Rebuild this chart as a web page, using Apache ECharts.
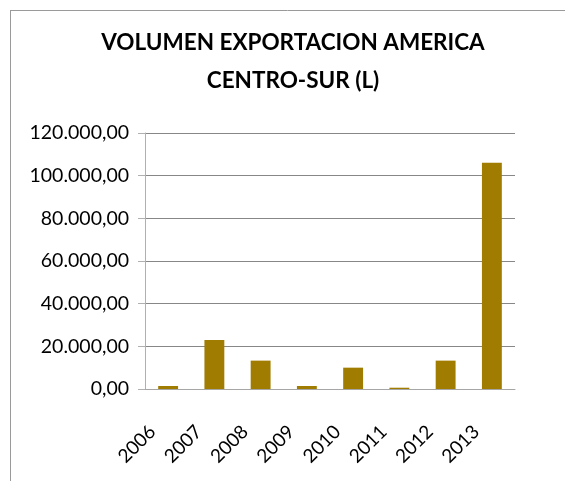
<!DOCTYPE html>
<html>
<head>
<meta charset="utf-8">
<script src="https://cdn.jsdelivr.net/npm/echarts@6/dist/echarts.min.js"></script>
<style>
  html, body { margin: 0; padding: 0; background: #fff; }
  #chart { width: 565px; height: 481px; }
</style>
</head>
<body>
<div id="chart"></div>
<script>
  // datos
  const years = ['2006', '2007', '2008', '2009', '2010', '2011', '2012', '2013'];
  const volumen = [1400, 23000, 13300, 1400, 10000, 600, 13300, 106000];
  const yTicks = [0, 20000, 40000, 60000, 80000, 100000, 120000];

  function fmt(v) {
    // 120000 -> 120.000,00
    const s = String(Math.round(v)).replace(/\B(?=(\d{3})+(?!\d))/g, '.');
    return s + ',00';
  }

  const myChart = echarts.init(document.getElementById('chart'));

  const option = {
    animation: false,
    textStyle: { fontFamily: 'Lato' },
    title: {
      text: 'VOLUMEN EXPORTACION AMERICA\nCENTRO-SUR (L)',
      left: 288,
      top: 19,
      textAlign: 'center',
      textStyle: {
        fontFamily: 'Lato',
        fontWeight: 'bold',
        fontSize: 22.5,
        lineHeight: 38,
        color: '#000'
      }
    },
    graphic: [
      { type: 'line', shape: { x1: 10, y1: 10.5, x2: 565, y2: 10.5 }, style: { stroke: '#9a9a9a', lineWidth: 1 } },
      { type: 'line', shape: { x1: 10.5, y1: 10, x2: 10.5, y2: 481 }, style: { stroke: '#9a9a9a', lineWidth: 1 } }
    ],
    grid: {
      left: 145,
      right: 50,
      top: 133,
      bottom: 92
    },
    xAxis: {
      type: 'category',
      data: years,
      axisLine: { lineStyle: { color: '#a6a6a6' } },
      axisTick: { length: 7, lineStyle: { color: '#a6a6a6' } },
      axisLabel: {
        rotate: 45,
        margin: 24,
        padding: [0, 22, 0, 0],
        fontSize: 19,
        fontFamily: 'Lato',
        color: '#000'
      }
    },
    yAxis: {
      type: 'value',
      min: yTicks[0],
      max: yTicks[yTicks.length - 1],
      interval: yTicks[1] - yTicks[0],
      axisLine: { show: true, lineStyle: { color: '#b0b0b0' } },
      axisTick: { show: true, length: 7, lineStyle: { color: '#b0b0b0' } },
      splitLine: { lineStyle: { color: '#878787' } },
      axisLabel: {
        margin: 16,
        fontSize: 19.5,
        fontFamily: 'Lato',
        color: '#000',
        formatter: fmt
      }
    },
    series: [
      {
        type: 'bar',
        data: volumen,
        barWidth: '43%',
        itemStyle: { color: '#a07c00' }
      }
    ]
  };

  myChart.setOption(option);
</script>
</body>
</html>
